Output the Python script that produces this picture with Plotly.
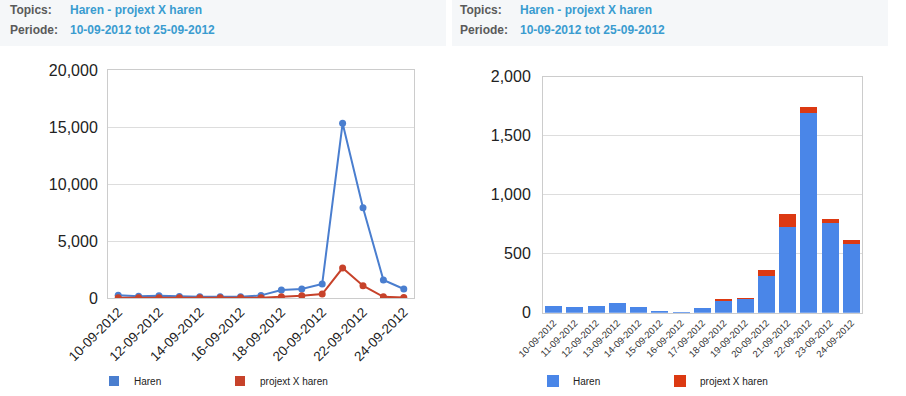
import plotly.graph_objects as go

# ---- data ----
dates = ["10-09-2012", "11-09-2012", "12-09-2012", "13-09-2012", "14-09-2012",
         "15-09-2012", "16-09-2012", "17-09-2012", "18-09-2012", "19-09-2012",
         "20-09-2012", "21-09-2012", "22-09-2012", "23-09-2012", "24-09-2012"]
line_haren = [250, 150, 200, 130, 110, 100, 100, 230, 700, 790, 1230, 15320, 7920, 1580, 790]
line_projext = [20, 20, 20, 20, 20, 20, 20, 30, 120, 200, 350, 2630, 1080, 100, 50]
bar_haren = [56, 48, 56, 82, 48, 14, 6, 40, 99, 119, 311, 729, 1689, 763, 585]
bar_projext = [0, 0, 0, 0, 0, 0, 0, 0, 20, 5, 51, 107, 54, 31, 31]
left_tick_labels = dates[::2]
series_names = ["Haren", "projext X haren"]
header_topic = "Haren - projext X haren"
header_period = "10-09-2012 tot 25-09-2012"

W, H = 906, 396
def px_x(v): return v / W
def px_y(v): return (H - v) / H

LINE_BLUE, LINE_RED = "#4a7ecf", "#c7422a"
BAR_BLUE, BAR_RED = "#4a86e8", "#dc3912"
FONT = "Liberation Sans, Arial, sans-serif"

fig = go.Figure()

# left line chart
fig.add_trace(go.Scatter(x=dates, y=line_haren, mode="lines+markers", name=series_names[0],
                         line=dict(color=LINE_BLUE, width=2), marker=dict(size=7, color=LINE_BLUE),
                         xaxis="x", yaxis="y", showlegend=False))
fig.add_trace(go.Scatter(x=dates, y=line_projext, mode="lines+markers", name=series_names[1],
                         line=dict(color=LINE_RED, width=2), marker=dict(size=7, color=LINE_RED),
                         xaxis="x", yaxis="y", showlegend=False))
# legend swatches for left chart
for nm, col in zip(series_names, [LINE_BLUE, LINE_RED]):
    fig.add_trace(go.Scatter(x=[None], y=[None], mode="markers", name=nm,
                             marker=dict(symbol="square", size=10, color=col),
                             xaxis="x", yaxis="y", legend="legend"))

# right stacked bar chart
fig.add_trace(go.Bar(x=dates, y=bar_haren, name=series_names[0], marker=dict(color=BAR_BLUE, line=dict(width=0)),
                     xaxis="x2", yaxis="y2", legend="legend2"))
fig.add_trace(go.Bar(x=dates, y=bar_projext, name=series_names[1], marker=dict(color=BAR_RED, line=dict(width=0)),
                     xaxis="x2", yaxis="y2", legend="legend2"))

axis_common = dict(showline=True, mirror=True, linecolor="#cccccc", linewidth=1, zeroline=False, automargin=False)

fig.update_layout(
    width=W, height=H, margin=dict(l=0, r=0, t=0, b=0, autoexpand=False),
    paper_bgcolor="white", plot_bgcolor="white",
    font=dict(family=FONT, color="#222222"),
    barmode="stack", bargap=0.2,
    xaxis=dict(domain=[px_x(108), px_x(414)], anchor="y", type="category",
               range=[-0.5, len(dates) - 0.5], tickvals=left_tick_labels, ticktext=left_tick_labels,
               tickangle=-45, tickfont=dict(size=13.5, color="#222222"), showgrid=False, ticks="", **axis_common),
    yaxis=dict(domain=[px_y(298), px_y(70)], anchor="x", range=[0, 20000], dtick=5000,
               tickformat=",", tickfont=dict(size=16, color="#222222"), gridcolor="#dddddd",
               ticks="", ticklabelstandoff=6, **axis_common),
    xaxis2=dict(domain=[px_x(543), px_x(862)], anchor="y2", type="category",
                tickangle=-45, tickfont=dict(size=9.5, color="#333333"), showgrid=False, ticks="", **axis_common),
    yaxis2=dict(domain=[px_y(312.7), px_y(76.7)], anchor="x2", range=[0, 2000], dtick=500,
                tickformat=",", tickfont=dict(size=16, color="#222222"), gridcolor="#dddddd",
                ticks="", ticklabelstandoff=8, **axis_common),
    legend=dict(orientation="h", x=px_x(94), xanchor="left", y=px_y(381), yanchor="middle",
                entrywidth=81, entrywidthmode="pixels", font=dict(size=10, color="#222222"),
                bgcolor="rgba(0,0,0,0)", itemclick=False, traceorder="normal"),
    legend2=dict(orientation="h", x=px_x(533), xanchor="left", y=px_y(381), yanchor="middle",
                 entrywidth=82, entrywidthmode="pixels", font=dict(size=10, color="#222222"),
                 bgcolor="rgba(0,0,0,0)", itemclick=False, traceorder="normal"),
)

# header panels
for x0, x1 in [(0, 446), (452, 888)]:
    fig.add_shape(type="rect", xref="paper", yref="paper", x0=px_x(x0), x1=px_x(x1),
                  y0=px_y(46), y1=px_y(0), fillcolor="#f5f7f9", line=dict(width=0), layer="below")

for lx, vx in [(8, 68), (458, 518)]:
    for ty, label, val in [(10, "Topics:", header_topic), (30, "Periode:", header_period)]:
        fig.add_annotation(x=px_x(lx), y=px_y(ty), xref="paper", yref="paper", xanchor="left", yanchor="middle",
                           text="<b>%s</b>" % label, showarrow=False, font=dict(size=12, color="#5a5a5a"))
        fig.add_annotation(x=px_x(vx), y=px_y(ty), xref="paper", yref="paper", xanchor="left", yanchor="middle",
                           text="<b>%s</b>" % val, showarrow=False, font=dict(size=12, color="#3a9cd0"))

fig.write_html("out.html", config={"displayModeBar": False},
               post_script="document.body.style.margin='0px';document.body.style.overflow='hidden';")
